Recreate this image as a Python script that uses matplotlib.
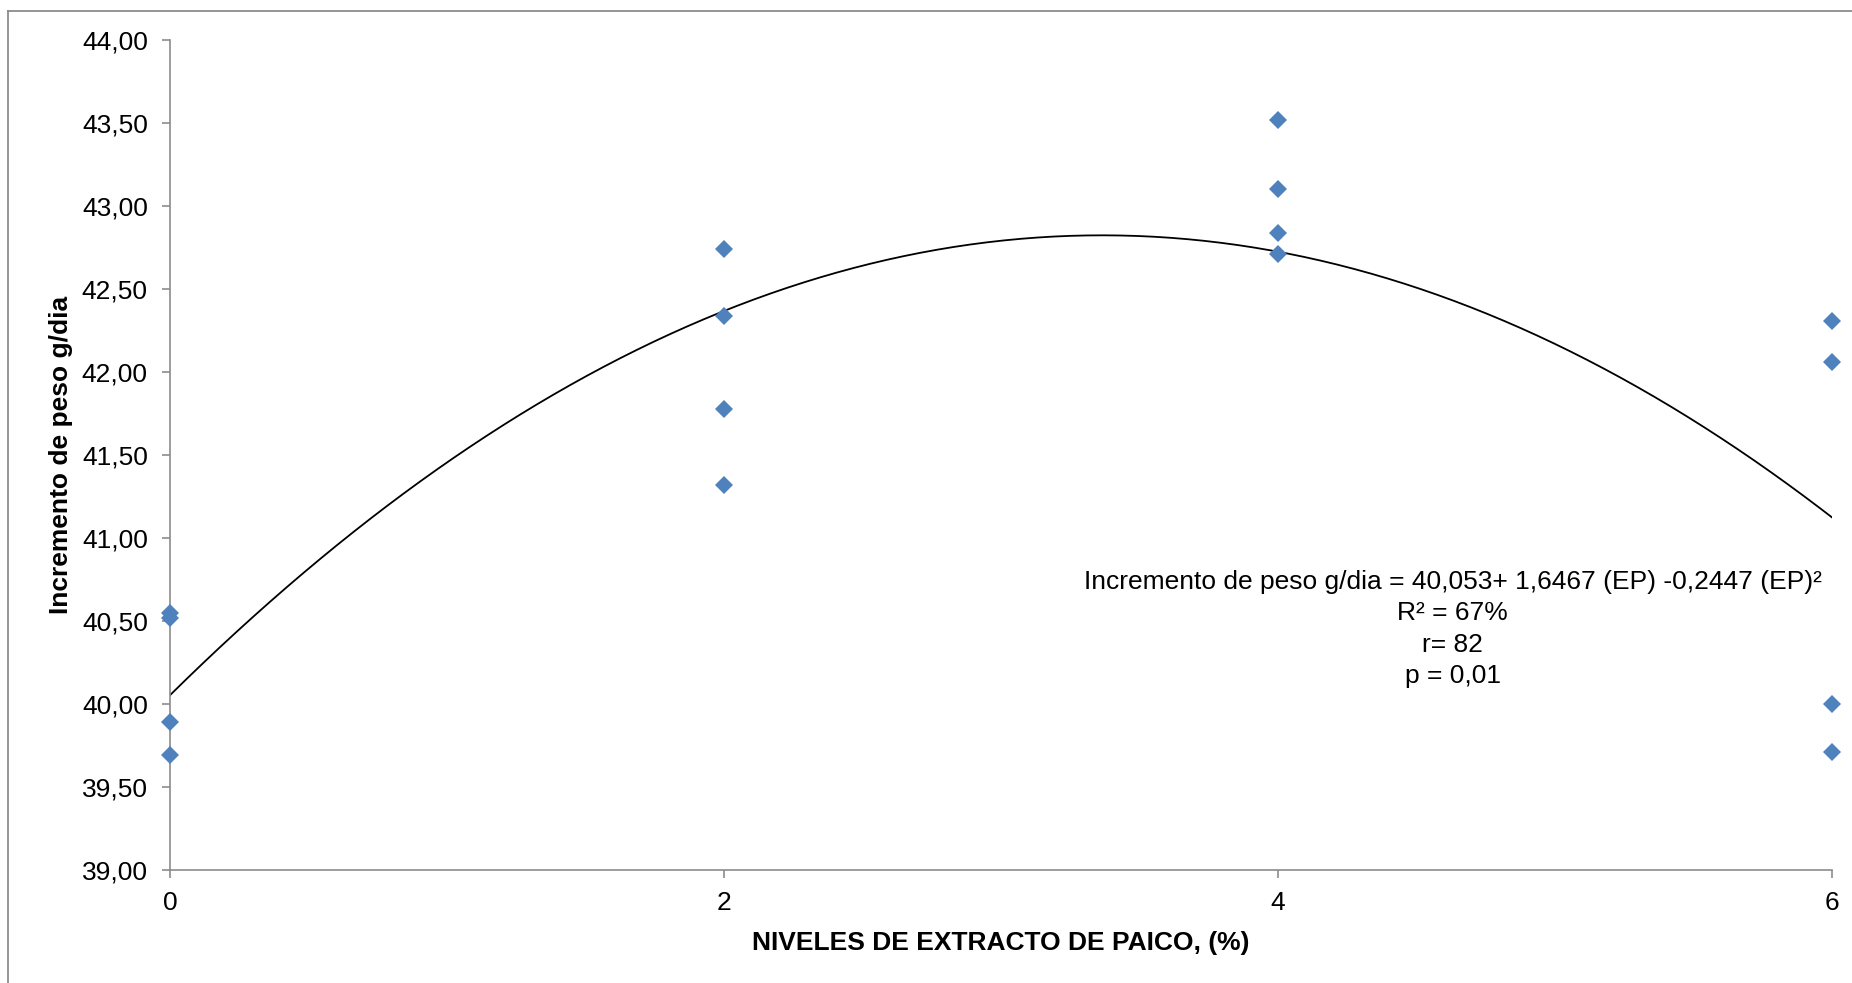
import matplotlib
matplotlib.use("Agg")

import matplotlib.pyplot as plt
import numpy as np
from matplotlib.lines import Line2D
from matplotlib.ticker import FuncFormatter

# Paico extract level (%) and daily weight gain (g/day), four replicates each
niveles = [0, 0, 0, 0, 2, 2, 2, 2, 4, 4, 4, 4, 6, 6, 6, 6]
incremento = [40.55, 40.52, 39.89, 39.69,
              42.74, 42.34, 41.78, 41.32,
              43.52, 43.10, 42.84, 42.71,
              42.31, 42.06, 40.00, 39.71]

# Quadratic fit coefficients
b0, b1, b2 = 40.053, 1.6467, -0.2447

x_ticks = [0, 2, 4, 6]
y_ticks = [39.0, 39.5, 40.0, 40.5, 41.0, 41.5, 42.0, 42.5, 43.0, 43.5, 44.0]

plt.rcParams["font.family"] = ["Liberation Sans", "DejaVu Sans"]

fig = plt.figure(figsize=(18.52, 9.83), dpi=100)
ax = fig.add_axes([0.0918, 0.1150, 0.8974, 0.8443])

xs = np.linspace(0, 6, 300)
ax.plot(xs, b0 + b1 * xs + b2 * xs ** 2, color="black", lw=1.3, zorder=2)
ax.plot(niveles, incremento, linestyle="none", marker="D", ms=9.5,
        color="#4F81BD", markeredgewidth=0, zorder=3, clip_on=False)

ax.set_xlim(0, 6)
ax.set_ylim(39, 44)
ax.set_xticks(x_ticks)
ax.set_yticks(y_ticks)
ax.yaxis.set_major_formatter(FuncFormatter(lambda v, p: f"{v:.2f}".replace(".", ",")))

for side in ["top", "right"]:
    ax.spines[side].set_visible(False)
for side in ["left", "bottom"]:
    ax.spines[side].set_color("#8C8C8C")
    ax.spines[side].set_linewidth(1.2)
ax.tick_params(axis="both", direction="out", length=6, width=1.2,
               color="#8C8C8C", labelsize=19)
ax.tick_params(axis="y", pad=10)
ax.tick_params(axis="x", pad=9)

ax.set_xlabel("NIVELES DE EXTRACTO DE PAICO, (%)", fontsize=19,
              fontweight="bold", labelpad=12)
ax.set_ylabel("Incremento de peso g/dia", fontsize=19,
              fontweight="bold", labelpad=6)

ax.text(4.63, 40.81,
        "Incremento de peso g/dia = 40,053+ 1,6467 (EP) -0,2447 (EP)²\n"
        "R² = 67%\nr= 82\np = 0,01",
        ha="center", va="top", fontsize=19, linespacing=1.4)

# outer chart frame (left and top edges visible)
fig.add_artist(Line2D([8 / 1852, 8 / 1852], [0, 1 - 11 / 983],
                      transform=fig.transFigure, color="#8C8C8C", lw=1.3))
fig.add_artist(Line2D([8 / 1852, 1], [1 - 11 / 983, 1 - 11 / 983],
                      transform=fig.transFigure, color="#8C8C8C", lw=1.3))

fig.savefig("out.png", dpi=100)
